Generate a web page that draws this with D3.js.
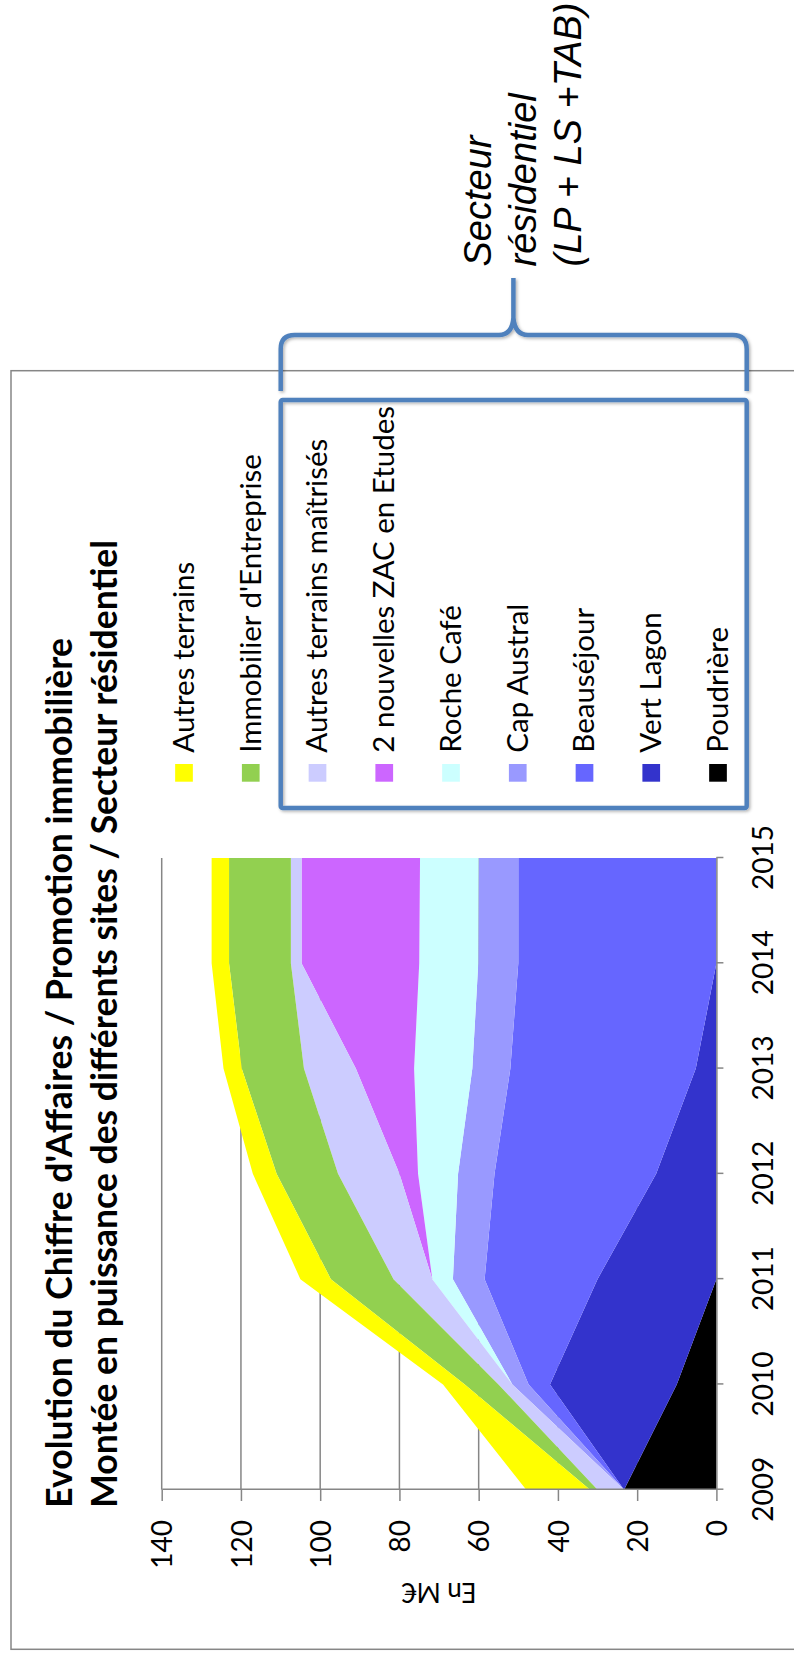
<!DOCTYPE html>
<html>
<head>
<meta charset="utf-8">
<script src="https://cdn.jsdelivr.net/npm/d3@7"></script>
<style>
  html, body { margin: 0; padding: 0; background: #fff; }
  svg { display: block; }
</style>
</head>
<body>
<svg id="chart" width="794" height="1661"></svg>
<script>
// Chiffre d'affaires (M€) per site, stacked from the bottom up
const years = [2009, 2010, 2011, 2012, 2013, 2014, 2015];
const poudriere               = [23.3, 10.0,  0.0,  0.0,  0.0,  0.0,  0.0];
const vertLagon               = [ 0.0, 32.0, 30.0, 15.2,  5.2,  0.0,  0.0];
const beausejour              = [ 0.0,  5.4, 28.5, 40.8, 46.8, 50.0, 50.0];
const capAustral              = [ 0.0,  4.1,  8.0,  9.2,  9.6, 10.1, 10.0];
const rocheCafe               = [ 0.0,  0.0,  5.2, 10.1, 14.7, 14.9, 14.8];
const nouvellesZac            = [ 0.0,  0.0,  0.0,  4.7, 14.7, 29.7, 29.9];
const autresTerrainsMaitrises = [ 6.7,  3.5,  9.8, 15.5, 13.1,  2.7,  2.7];
const immobilierEntreprise    = [ 1.9,  8.5, 15.8, 15.5, 15.7, 15.6, 15.6];
const autresTerrains          = [16.1,  5.5,  7.7,  6.0,  4.6,  4.4,  4.4];

const seriesNames = ["Poudrière", "Vert Lagon", "Beauséjour", "Cap Austral", "Roche Café",
  "2 nouvelles ZAC en Etudes", "Autres terrains maîtrisés", "Immobilier d'Entreprise", "Autres terrains"];
const seriesValues = [poudriere, vertLagon, beausejour, capAustral, rocheCafe,
  nouvellesZac, autresTerrainsMaitrises, immobilierEntreprise, autresTerrains];
const seriesColors = ["#000000", "#3333CC", "#6666FF", "#9999FF", "#CCFFFF",
  "#CC66FF", "#CCCCFF", "#92D050", "#FFFF00"];
const valueTicks = [0, 20, 40, 60, 80, 100, 120, 140];

const titleLines = ["Evolution du Chiffre d'Affaires / Promotion immobilière",
  "Montée en puissance des différents sites / Secteur résidentiel"];
const axisTitle = "En M€";
const noteLines = ["Secteur", "résidentiel", "(LP + LS +TAB)"];

const svg = d3.select("#chart");
const W = 794, H = 1661;
svg.append("rect").attr("width", W).attr("height", H).attr("fill", "#fff");

const defs = svg.append("defs");
const shadow = defs.append("filter").attr("id", "soft").attr("x", "-10%").attr("y", "-10%")
  .attr("width", "120%").attr("height", "120%");
shadow.append("feDropShadow").attr("dx", 1.5).attr("dy", 1.5).attr("stdDeviation", 1.5)
  .attr("flood-color", "#000").attr("flood-opacity", 0.3);

// The chart is laid out in landscape and turned a quarter turn to the left
const land = svg.append("g").attr("transform", `translate(0,${H}) rotate(-90)`);

const gray = "#868686";
const font = "Lato, 'Liberation Sans', sans-serif";

// outer chart frame
land.append("rect")
  .attr("x", 11.7).attr("y", 11).attr("width", 1278.6).attr("height", 820)
  .attr("fill", "none").attr("stroke", gray).attr("stroke-width", 1.5);

const x = d3.scaleLinear().domain([2009, 2015]).range([171.3, 803]);
const y = d3.scaleLinear().domain([0, 140]).range([716.4, 161.7]);

// gridlines
land.append("g").selectAll("line").data(valueTicks.filter(d => d > 0)).join("line")
  .attr("x1", x(2009)).attr("x2", x(2015))
  .attr("y1", d => y(d)).attr("y2", d => y(d))
  .attr("stroke", gray).attr("stroke-width", 1.5);

// stacked areas
const table = years.map((yr, i) => {
  const row = { year: yr };
  seriesNames.forEach((n, k) => { row[n] = seriesValues[k][i]; });
  return row;
});
const stacked = d3.stack().keys(seriesNames)(table);
const area = d3.area()
  .x(d => x(d.data.year))
  .y0(d => y(d[0]))
  .y1(d => y(d[1]));
land.append("g").selectAll("path").data(stacked).join("path")
  .attr("d", area)
  .attr("fill", (d, i) => seriesColors[i]);

// value axis
const yAxis = land.append("g").attr("transform", `translate(${x(2009)},0)`)
  .call(d3.axisLeft(y).tickValues(valueTicks).tickSize(11.3).tickSizeOuter(0).tickPadding(19));
yAxis.select(".domain").attr("stroke", gray).attr("stroke-width", 1.5);
yAxis.selectAll(".tick line").attr("stroke", gray).attr("stroke-width", 1.5);
yAxis.selectAll("text").attr("font-family", font).attr("font-size", 28)
  .attr("fill", "#000").attr("dy", "0.36em");

// category axis
const xAxis = land.append("g").attr("transform", `translate(0,${y(0)})`)
  .call(d3.axisBottom(x).tickValues(years).tickFormat(d3.format("d"))
    .tickSize(7).tickSizeOuter(0).tickPadding(29.6));
xAxis.select(".domain").attr("stroke", gray).attr("stroke-width", 1.5);
xAxis.selectAll(".tick line").attr("stroke", gray).attr("stroke-width", 1.5);
xAxis.selectAll("text").attr("font-family", font).attr("font-size", 28).attr("fill", "#000");

// axis title
land.append("text")
  .attr("transform", `translate(78.3,439) rotate(-90)`)
  .attr("text-anchor", "middle")
  .attr("font-family", font).attr("font-size", 26).attr("fill", "#000")
  .text(axisTitle);

// chart title
land.append("g").selectAll("text").data(titleLines).join("text")
  .attr("x", 153.3).attr("y", (d, i) => 71.7 + i * 45.6)
  .attr("font-family", font).attr("font-weight", 700).attr("font-size", 35.5)
  .attr("fill", "#000")
  .text(d => d);

// legend, top series first
const legendItems = seriesNames.map((n, i) => ({ name: n, color: seriesColors[i] })).reverse();
const legend = land.append("g").selectAll("g").data(legendItems).join("g")
  .attr("transform", (d, i) => `translate(0,${184 + i * 66.75})`);
legend.append("rect")
  .attr("x", 879.3).attr("y", -8.85).attr("width", 17.7).attr("height", 17.7)
  .attr("fill", d => d.color);
legend.append("text")
  .attr("x", 908.3).attr("y", 0).attr("dy", "0.33em")
  .attr("font-family", font).attr("font-size", 29.5).attr("fill", "#000")
  .text(d => d.name);

// residential group frame and brace (upright page coordinates)
const blue = "#4F81BD";
svg.append("rect")
  .attr("x", 280.7).attr("y", 400).attr("width", 466).attr("height", 408)
  .attr("rx", 2)
  .attr("fill", "none").attr("stroke", blue).attr("stroke-width", 4.5)
  .attr("filter", "url(#soft)");

const brace = d3.path();
brace.moveTo(280.7, 391);
brace.lineTo(280.7, 349);
brace.quadraticCurveTo(280.7, 335, 294.7, 335);
brace.lineTo(499, 335);
brace.quadraticCurveTo(512, 335, 513.4, 318);
brace.lineTo(513.4, 278);
brace.moveTo(746.7, 391);
brace.lineTo(746.7, 349);
brace.quadraticCurveTo(746.7, 335, 732.7, 335);
brace.lineTo(528, 335);
brace.quadraticCurveTo(515, 335, 513.4, 318);
svg.append("path").attr("d", brace.toString())
  .attr("fill", "none").attr("stroke", blue).attr("stroke-width", 4.5)
  .attr("filter", "url(#soft)");

// brace annotation
svg.append("g").selectAll("text").data(noteLines).join("text")
  .attr("transform", (d, i) => `translate(${[491, 536, 580.5][i]},266.5) rotate(-90)`)
  .attr("font-family", "'Liberation Sans', Arial, sans-serif")
  .attr("font-style", "italic").attr("font-size", 38).attr("fill", "#000")
  .text(d => d);
</script>
</body>
</html>
